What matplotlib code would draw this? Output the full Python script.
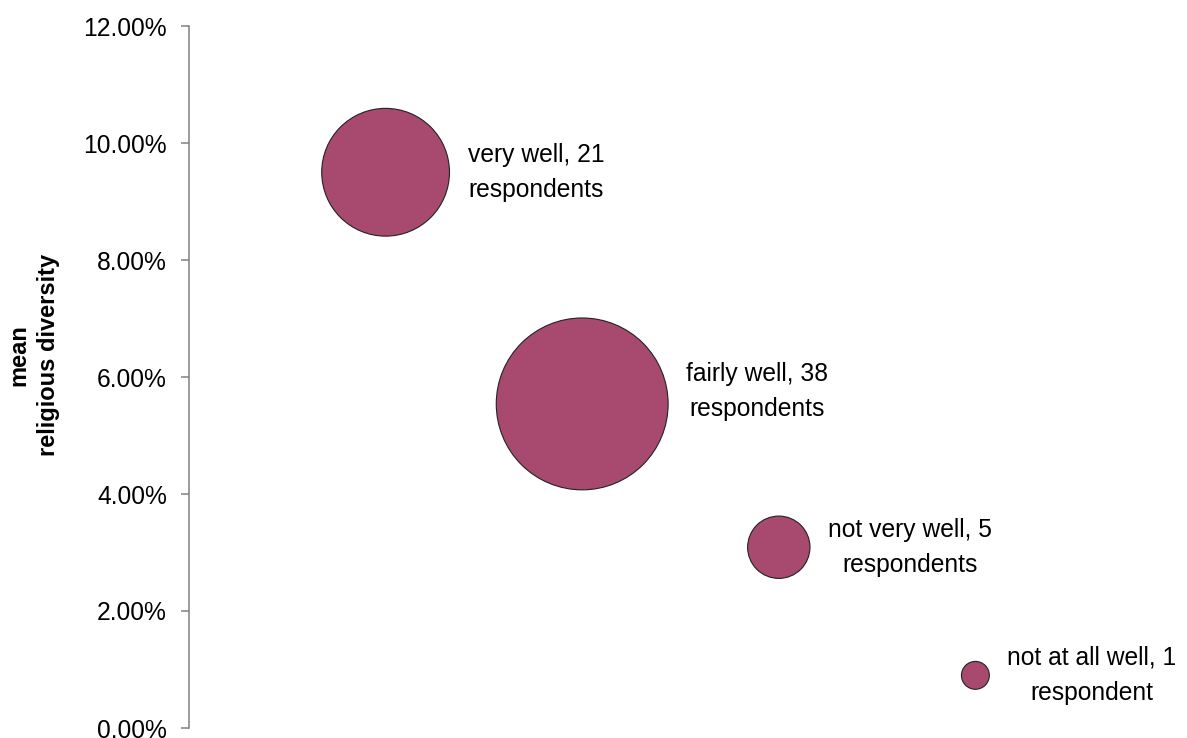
import matplotlib
matplotlib.use("Agg")
import matplotlib.pyplot as plt
import numpy as np
from matplotlib.ticker import FuncFormatter

plt.rcParams['font.family'] = ['Liberation Sans', 'DejaVu Sans']

categories = ["very well", "fairly well", "not very well", "not at all well"]
respondents = [21, 38, 5, 1]
mean_diversity = [9.50, 5.54, 3.09, 0.90]  # percent
labels = ["very well, 21\nrespondents", "fairly well, 38\nrespondents",
          "not very well, 5\nrespondents", "not at all well, 1\nrespondent"]
y_ticks = [0, 2, 4, 6, 8, 10, 12]

W, H = 1187, 738
fig = plt.figure(figsize=(W / 100, H / 100), dpi=100)
ax = fig.add_axes([189 / W, 1 - 728 / H, (1172 - 189) / W, (728 - 26) / H])

x = np.arange(1, len(categories) + 1)
sizes = [403 * n for n in respondents]
color = "#A8496F"
ax.scatter(x, mean_diversity, s=sizes, color=color, edgecolor="#222222",
           linewidth=0.8, zorder=3)

label_dy = [0, 9, 0, 0]  # points
for xi, yi, s, lab, dy in zip(x, mean_diversity, sizes, labels, label_dy):
    r = np.sqrt(s) / 2
    ax.annotate(lab, (xi, yi), xytext=(r + 13, dy), textcoords="offset points",
                ha="left", va="center", multialignment="center",
                fontsize=17.7, linespacing=1.58, color="black")

ax.set_xlim(0, 5)
ax.set_ylim(0, 12)
ax.set_yticks(y_ticks)
ax.yaxis.set_major_formatter(FuncFormatter(lambda v, p: f"{v:.2f}%"))
ax.tick_params(axis="y", length=6, width=1.1, color="#808080", pad=10,
               labelsize=17.7)
ax.set_xticks([])
for sp in ["top", "right", "bottom"]:
    ax.spines[sp].set_visible(False)
ax.spines["left"].set_color("#808080")
ax.spines["left"].set_linewidth(1.1)

fig.text(34 / W, 1 - 355 / H, "mean\nreligious diversity", rotation=90,
         ha="center", va="center", multialignment="center",
         fontsize=17, fontweight="bold", linespacing=1.35)

fig.savefig("out.png", dpi=100)
